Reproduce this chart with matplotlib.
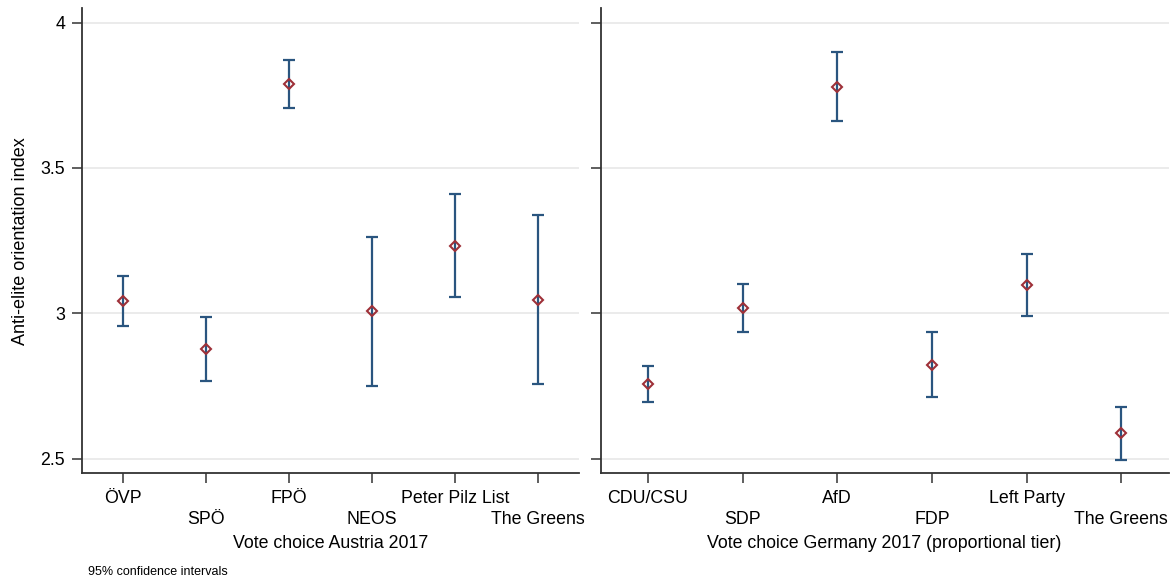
import matplotlib.pyplot as plt
import numpy as np

plt.rcParams['font.family'] = ['Liberation Sans', 'DejaVu Sans']

# Austria 2017
at_parties = ['ÖVP', 'SPÖ', 'FPÖ', 'NEOS', 'Peter Pilz List', 'The Greens']
at_mean = [3.043, 2.878, 3.787, 3.007, 3.233, 3.047]
at_low = [2.958, 2.768, 3.706, 2.749, 3.056, 2.758]
at_high = [3.130, 2.989, 3.872, 3.264, 3.412, 3.339]

# Germany 2017
de_parties = ['CDU/CSU', 'SDP', 'AfD', 'FDP', 'Left Party', 'The Greens']
de_mean = [2.757, 3.018, 3.780, 2.823, 3.098, 2.587]
de_low = [2.695, 2.936, 3.660, 2.712, 2.991, 2.497]
de_high = [2.820, 3.101, 3.900, 2.936, 3.205, 2.679]

yticks = [2.5, 3, 3.5, 4]
ytick_labels = ['2.5', '3', '3.5', '4']

bar_col = '#2a557f'
pt_col = '#9e3038'

fig = plt.figure(figsize=(11.73, 5.81), dpi=100)
ax1 = fig.add_axes([0.0697, 0.1854, 0.4242, 0.8008])
ax2 = fig.add_axes([0.5121, 0.1854, 0.4841, 0.8008])


def panel(ax, parties, mean, low, high, xlabel, show_y):
    x = np.arange(1, len(parties) + 1)
    mean = np.array(mean)
    yerr = [mean - np.array(low), np.array(high) - mean]
    ax.errorbar(x, mean, yerr=yerr, fmt='none', ecolor=bar_col,
                elinewidth=1.6, capsize=4, capthick=1.6, zorder=2)
    ax.plot(x, mean, 'D', ms=5.5, mfc='none', mec=pt_col, mew=1.5, zorder=3)
    ax.set_xlim(0.5, len(parties) + 0.5)
    ax.set_ylim(2.45, 4.05)
    ax.set_yticks(yticks)
    if show_y:
        ax.set_yticklabels(ytick_labels, fontsize=12.8)
    else:
        ax.set_yticklabels([])
    ax.set_xticks(x)
    ax.set_xticklabels(parties, fontsize=12.8)
    ax.tick_params(axis='both', length=7, width=1.1, color='#333333', pad=5)
    # alternate label rows like stata
    for t in ax.xaxis.get_major_ticks()[1::2]:
        t.set_pad(20)
    ax.grid(axis='y', color='#e8e8e8', linewidth=1.2, zorder=0)
    ax.set_axisbelow(True)
    for s in ['top', 'right']:
        ax.spines[s].set_visible(False)
    for s in ['left', 'bottom']:
        ax.spines[s].set_linewidth(1.3)
        ax.spines[s].set_color('#333333')
    ax.set_xlabel(xlabel, fontsize=12.8)
    ax.xaxis.set_label_coords(0.5, -0.132)


panel(ax1, at_parties, at_mean, at_low, at_high, 'Vote choice Austria 2017', True)
panel(ax2, de_parties, de_mean, de_low, de_high,
      'Vote choice Germany 2017 (proportional tier)', False)

ax1.set_ylabel('Anti-elite orientation index', fontsize=13)
ax1.yaxis.set_label_coords(-0.107, 0.5)

fig.text(88 / 1173, 1 - 572 / 581, '95% confidence intervals', fontsize=9,
         va='center', ha='left')

fig.savefig('out.png', dpi=100)
